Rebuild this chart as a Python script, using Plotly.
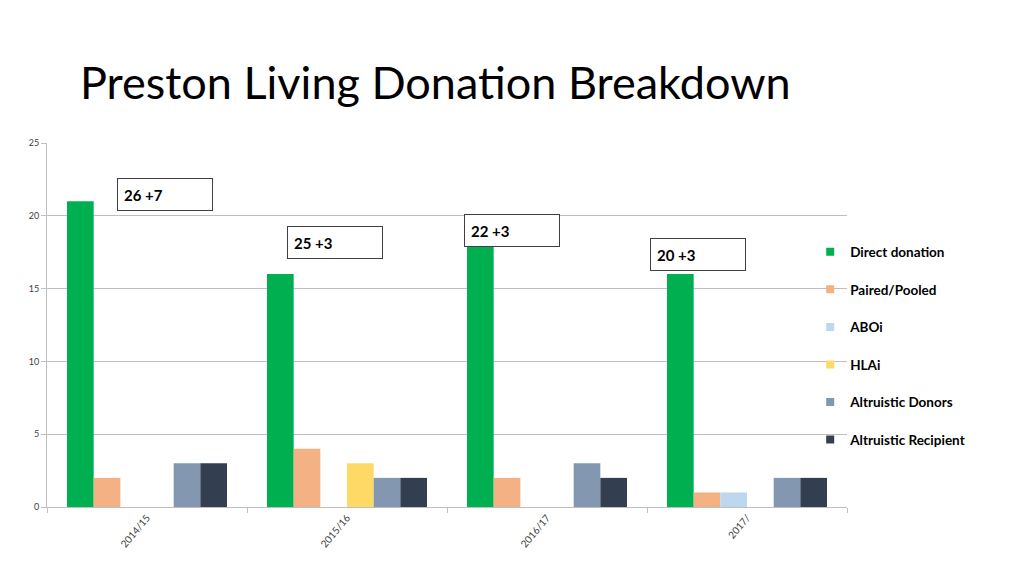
import plotly.graph_objects as go

categories = ["2014/15", "2015/16", "2016/17", "2017/"]
series_names = ["Direct donation", "Paired/Pooled", "ABOi", "HLAi",
                "Altruistic Donors", "Altruistic Recipient"]
direct = [21, 16, 18, 16]
paired = [2, 4, 2, 1]
aboi = [0, 0, 0, 1]
hlai = [0, 3, 0, 0]
alt_donors = [3, 2, 3, 2]
alt_recipient = [3, 2, 2, 2]
box_labels = ["26 +7", "25 +3", "22 +3", "20 +3"]

colors = ["#00B050", "#F4B183", "#BDD7EE", "#FFD966", "#8497B0", "#333F50"]
values = [direct, paired, aboi, hlai, alt_donors, alt_recipient]

fig = go.Figure()
for name, vals, col in zip(series_names, values, colors):
    fig.add_trace(go.Bar(
        x=categories, y=vals, name=name,
        marker=dict(color=col, line=dict(width=0)),
        legendgroup=name, showlegend=False,
    ))
# legend entries with small square swatches
for name, col in zip(series_names, colors):
    fig.add_trace(go.Scatter(
        x=[None], y=[None], mode="markers", name=name,
        marker=dict(symbol="square", size=8, color=col),
        legendgroup=name, showlegend=True,
    ))

# annotation boxes (position offsets relative to category index, value height)
box_pos = [(0.09, 21.46), (0.94, 18.17), (1.8225, 18.99), (2.7525, 17.34)]
for lab, (bx, by) in zip(box_labels, box_pos):
    fig.add_annotation(
        x=bx, y=by, xref="x", yref="y", text="<b>%s</b>" % lab,
        showarrow=False, align="left", width=82, height=19,
        bordercolor="#404040", borderwidth=1, borderpad=6,
        bgcolor="white",
        font=dict(family="Lato", size=15, color="black"),
    )

# page body has an 8px offset; margins compensate for it
fig.update_layout(
    width=1024, height=576,
    paper_bgcolor="white", plot_bgcolor="white",
    margin=dict(l=39, r=185, t=135, b=77),
    barmode="group", bargap=0.2, bargroupgap=0,
    title=dict(text="Preston Living Donation Breakdown",
               x=72 / 1024, xanchor="left", y=1 - 75 / 576, yanchor="middle",
               font=dict(family="Lato", size=45, color="black")),
    font=dict(family="Lato", color="#404040"),
    legend=dict(x=0.954, xanchor="left", y=0.743, yanchor="top",
                font=dict(family="Lato", size=13.5, color="black", weight="bold"),
                tracegroupgap=17, itemwidth=30, bgcolor="rgba(0,0,0,0)"),
    showlegend=True,
)
fig.update_xaxes(
    type="category", showline=True, linecolor="#BFBFBF", linewidth=1,
    ticks="outside", tickson="boundaries", ticklen=5, tickcolor="#BFBFBF",
    tickangle=-50, tickfont=dict(family="Lato", size=10, color="#404040"),
    showgrid=False, range=[-0.5, 3.5],
)
fig.update_yaxes(
    range=[0, 25], dtick=5, showline=True, linecolor="#BFBFBF", linewidth=1,
    ticks="outside", ticklen=5, tickcolor="#BFBFBF",
    showgrid=True, gridcolor="#BFBFBF", gridwidth=1,
    tickfont=dict(family="Lato", size=9, color="#404040"), zeroline=False,
)

fig.write_html("out.html")
